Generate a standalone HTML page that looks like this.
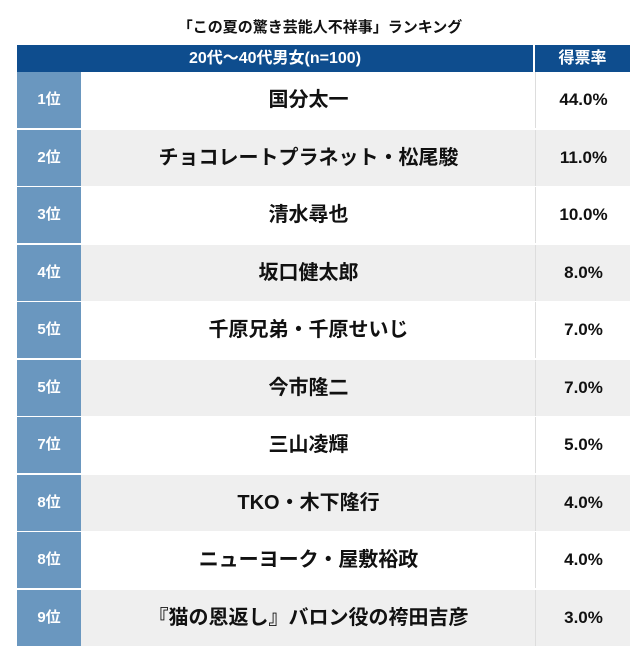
<!DOCTYPE html><html><head><meta charset="utf-8"><style>
body{margin:0;width:640px;height:668px;background:#fff;font-family:"Liberation Sans","Noto Sans CJK JP",sans-serif;position:relative;overflow:hidden}
.t{position:absolute;top:16px;left:0;width:640px;text-align:center;font-weight:bold;font-size:15px;color:#111}
.h{position:absolute;top:45px;height:27px;background:#0e4d8e;color:#fff;font-weight:bold;font-size:16px;line-height:27px;text-align:center}
.r{position:absolute;left:17px;width:613px;height:56px}
.r div{position:absolute;top:0;height:56px;line-height:56px;text-align:center;font-weight:bold}
.k{left:0;width:64px;background:#6a97bf;color:#fff;font-size:15px}
.n{left:66px;width:451px;font-size:20px;color:#111}
.p{left:518px;width:95px;font-size:17px;color:#111;border-left:1px solid #ddd}
</style></head><body>
<div class="t">「この夏の驚き芸能人不祥事」ランキング</div>
<div class="h" style="left:17px;width:516px">20代〜40代男女(n=100)</div>
<div class="h" style="left:535px;width:95px">得票率</div>
<div class="r" style="top:72px;background:#fff"><div class="k">1位</div><div class="n">国分太一</div><div class="p">44.0%</div></div>
<div class="r" style="top:130px;background:#efefef"><div class="k">2位</div><div class="n">チョコレートプラネット・松尾駿</div><div class="p">11.0%</div></div>
<div class="r" style="top:187px;background:#fff"><div class="k">3位</div><div class="n">清水尋也</div><div class="p">10.0%</div></div>
<div class="r" style="top:245px;background:#efefef"><div class="k">4位</div><div class="n">坂口健太郎</div><div class="p">8.0%</div></div>
<div class="r" style="top:302px;background:#fff"><div class="k">5位</div><div class="n">千原兄弟・千原せいじ</div><div class="p">7.0%</div></div>
<div class="r" style="top:360px;background:#efefef"><div class="k">5位</div><div class="n">今市隆二</div><div class="p">7.0%</div></div>
<div class="r" style="top:417px;background:#fff"><div class="k">7位</div><div class="n">三山凌輝</div><div class="p">5.0%</div></div>
<div class="r" style="top:475px;background:#efefef"><div class="k">8位</div><div class="n">TKO・木下隆行</div><div class="p">4.0%</div></div>
<div class="r" style="top:532px;background:#fff"><div class="k">8位</div><div class="n">ニューヨーク・屋敷裕政</div><div class="p">4.0%</div></div>
<div class="r" style="top:590px;background:#efefef"><div class="k">9位</div><div class="n">『猫の恩返し』バロン役の袴田吉彦</div><div class="p">3.0%</div></div>
</body></html>
